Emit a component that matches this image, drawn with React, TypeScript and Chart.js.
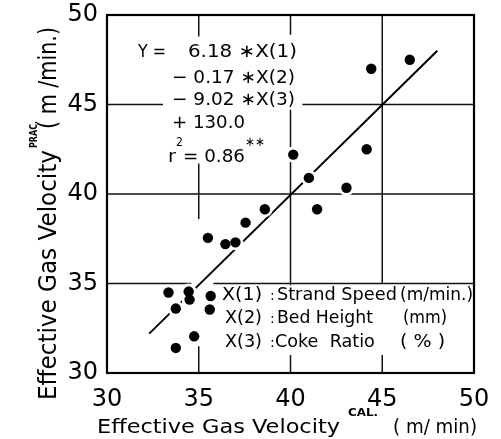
import { useEffect, useRef } from "react";
import { Chart, registerables } from "chart.js";

Chart.register(...registerables);

// ---- data ----
const xCal = [46.5, 44.4, 44.15, 40.15, 41.0, 43.05, 41.45, 38.6, 37.55, 35.5, 36.45, 37.0, 33.35, 34.45, 34.5, 35.65, 33.75, 35.6, 34.75, 33.75];
const yPrac = [47.5, 47.0, 42.5, 42.2, 40.9, 40.35, 39.15, 39.15, 38.4, 37.55, 37.2, 37.3, 34.5, 34.55, 34.1, 34.3, 33.6, 33.55, 32.05, 31.4];
const fitX = [32.3, 48.0];
const fitY = [32.2, 48.0];
const axisMin = 30;
const axisMax = 50;
const axisStep = 5;

// ---- layout of the broken grid lines (value, from, to) in data units ----
const V_SEGMENTS = [
  [35, 48.8, 50], [35, 38.6, 41.7], [35, 30, 31.5],
  [40, 48.9, 50], [40, 34.9, 44.7], [40, 30, 31],
  [45, 35, 50], [45, 30, 31],
];
const H_SEGMENTS = [
  [45, 30, 33.05], [45, 40.65, 50],
  [40, 30, 50],
  [35, 30, 34.6], [35, 35.8, 50],
];

const FONT = '"DejaVu Sans", sans-serif';

// text notes: [text, x, y, width(px) or 0, fontSize, bold]
const EQUATION = [
  ["Y =", 31.69, 47.65, 28, 18, false],
  ["6.18 \u2217X(1)", 34.41, 47.65, 109, 18, false],
  ["\u2212 0.17 \u2217X(2)", 33.54, 46.2, 123, 18, false],
  ["\u2212 9.02 \u2217X(3)", 33.54, 44.97, 123, 18, false],
  ["+ 130.0", 33.54, 43.69, 73, 18, false],
  ["r", 33.32, 41.79, 8, 18, false],
  ["2", 33.76, 42.7, 7, 12, false],
  ["= 0.86", 34.14, 41.79, 62, 18, false],
  ["\u2217\u2217", 37.52, 42.7, 20, 13, false],
];
const LEGEND = [
  ["X(1)", 36.27, 34.08, 40, 17, false],
  [":", 38.88, 34.08, 0, 14, false],
  ["Strand Speed", 39.26, 34.08, 120, 17, false],
  ["(m/min.)", 45.97, 34.08, 73, 17, false],
  ["X(2)", 36.43, 32.79, 37, 17, false],
  [":", 38.88, 32.79, 0, 14, false],
  ["Bed Height", 39.26, 32.79, 96, 17, false],
  ["(mm)", 46.13, 32.79, 44, 17, false],
  ["X(3)", 36.43, 31.45, 37, 17, false],
  [":", 38.88, 31.45, 0, 14, false],
  ["Coke  Ratio", 39.15, 31.45, 100, 17, false],
  ["( % )", 45.97, 31.45, 45, 17, false],
];

function fitText(ctx: CanvasRenderingContext2D, text: string, x: number, y: number, width: number, size: number, bold: boolean) {
  ctx.font = `${bold ? "bold " : ""}${size}px ${FONT}`;
  const w = ctx.measureText(text).width;
  ctx.save();
  ctx.translate(x, y);
  if (width) ctx.scale(width / w, 1);
  ctx.fillText(text, 0, 0);
  ctx.restore();
}

const decor = {
  id: "decor",
  beforeDatasetsDraw(chart: any) {
    const { ctx, chartArea: a, scales } = chart;
    const xs = scales.x, ys = scales.y;
    ctx.save();
    ctx.strokeStyle = "#111";
    ctx.lineWidth = 1.5;
    ctx.beginPath();
    for (const [v, f, t] of V_SEGMENTS) {
      const px = xs.getPixelForValue(v);
      ctx.moveTo(px, ys.getPixelForValue(f));
      ctx.lineTo(px, ys.getPixelForValue(t));
    }
    for (const [v, f, t] of H_SEGMENTS) {
      const py = ys.getPixelForValue(v);
      ctx.moveTo(xs.getPixelForValue(f), py);
      ctx.lineTo(xs.getPixelForValue(t), py);
    }
    ctx.stroke();
    ctx.lineWidth = 2.2;
    ctx.strokeStyle = "#000";
    ctx.strokeRect(a.left, a.top, a.right - a.left, a.bottom - a.top);
    ctx.restore();
  },
  afterDraw(chart: any) {
    const { ctx, scales } = chart;
    const xs = scales.x, ys = scales.y;
    ctx.save();
    ctx.fillStyle = "#000";
    ctx.textBaseline = "alphabetic";
    ctx.textAlign = "left";
    for (const [t, x, y, w, s, b] of [...EQUATION, ...LEGEND] as any[]) {
      fitText(ctx, t, xs.getPixelForValue(x), ys.getPixelForValue(y), w, s, b);
    }
    // x axis title
    const a = chart.chartArea;
    const xb = a.bottom + 60;
    fitText(ctx, "Effective Gas Velocity", a.left - 10, xb, 243, 20, false);
    fitText(ctx, "CAL.", a.left + 241, xb - 17, 30, 10, true);
    fitText(ctx, "( m/ min)", a.left + 286, xb, 84, 20, false);
    // y axis title (rotated)
    ctx.save();
    ctx.translate(56, 400);
    ctx.rotate(-Math.PI / 2);
    fitText(ctx, "Effective Gas Velocity", 0, 0, 250, 25, false);
    fitText(ctx, "PRAC.", 252, -19, 27, 10.5, true);
    fitText(ctx, "( m /min.)", 271, 0, 102, 25, false);
    ctx.restore();
    ctx.restore();
  },
};

export default function App() {
  const ref = useRef<HTMLCanvasElement>(null);
  useEffect(() => {
    if (!ref.current) return;
    const pts = xCal.map((x, i) => ({ x, y: yPrac[i] }));
    const fit = fitX.map((x, i) => ({ x, y: fitY[i] }));
    const tickFont = { family: FONT, size: 24 };
    const chart = new Chart(ref.current, {
      type: "scatter",
      data: {
        datasets: [
          { data: fit, showLine: true, borderColor: "#000", borderWidth: 2, pointRadius: 0, order: 3 },
          { data: pts, backgroundColor: "#fff", borderWidth: 0, pointRadius: 8, order: 2 },
          { data: pts, backgroundColor: "#000", borderWidth: 0, pointRadius: 5.2, order: 1 },
        ],
      },
      options: {
        responsive: false,
        animation: false,
        layout: { padding: { left: 0, top: 15, right: 27, bottom: 0 } },
        plugins: { legend: { display: false }, tooltip: { enabled: false } },
        scales: {
          x: {
            type: "linear",
            min: axisMin,
            max: axisMax,
            ticks: { stepSize: axisStep, font: tickFont, color: "#000", padding: 12 },
            grid: { display: false, drawTicks: false },
            border: { display: false },
            afterFit: (s: any) => { s.height = 66; s.paddingLeft = 0; s.paddingRight = 0; },
          },
          y: {
            type: "linear",
            min: axisMin,
            max: axisMax,
            ticks: { stepSize: axisStep, font: tickFont, color: "#000", padding: 9 },
            grid: { display: false, drawTicks: false },
            border: { display: false },
            afterFit: (s: any) => { s.width = 107; s.paddingTop = 0; s.paddingBottom = 0; },
          },
        },
      },
      plugins: [decor],
    });
    return () => chart.destroy();
  }, []);
  return (
    <div style={{ position: "absolute", left: 0, top: 0, width: 501, height: 439, background: "#fff" }}>
      <canvas ref={ref} width={501} height={439} style={{ display: "block" }} />
    </div>
  );
}
